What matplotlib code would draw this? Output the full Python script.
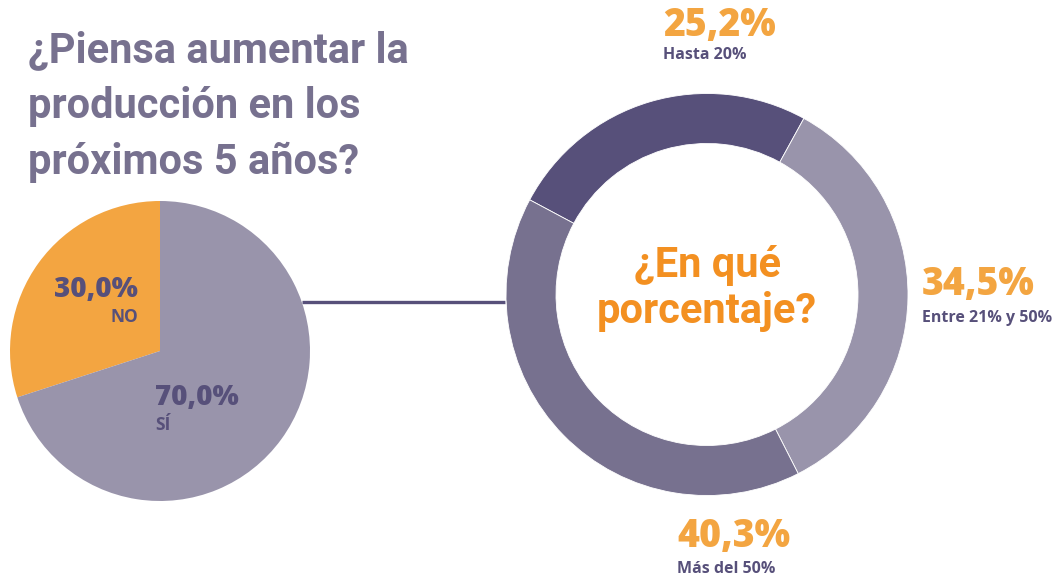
import matplotlib.pyplot as plt

W, H = 1062, 581

# datos
resp_labels = ['NO', 'SÍ']
resp_values = [30.0, 70.0]
pct_labels = ['Hasta 20%', 'Entre 21% y 50%', 'Más del 50%']
pct_values = [25.2, 34.5, 40.3]

purple_dark = '#57507a'
purple_mid = '#77718f'
purple_light = '#9994ab'
orange = '#f3a541'
orange_strong = '#f39021'

f_title = ['Roboto', 'DejaVu Sans']
f_num = ['Open Sans', 'DejaVu Sans']

fig = plt.figure(figsize=(W / 100, H / 100), dpi=100)
ax = fig.add_axes([0, 0, 1, 1])


def Y(py):
    # pixel desde arriba -> coordenada y
    return H - py


def pct(v):
    return f'{v:.1f}%'.replace('.', ',')


# linea de conexion
ax.plot([302, 505], [Y(302), Y(302)], color=purple_dark, lw=2.4,
        solid_capstyle='butt', zorder=1)

# pie izquierdo
ax.pie(resp_values, colors=[orange, purple_light], startangle=90,
       counterclock=True, center=(160, Y(351)), radius=150,
       wedgeprops=dict(linewidth=0))

# dona
ax.pie(pct_values, colors=[purple_dark, purple_light, purple_mid],
       startangle=151.9, counterclock=False, center=(707, Y(294.5)),
       radius=201, wedgeprops=dict(width=50, linewidth=0.6, edgecolor='white'))

ax.set_xlim(0, W)
ax.set_ylim(0, H)
ax.set_aspect('equal')
ax.axis('off')

# titulo
title_lines = ['¿Piensa aumentar la', 'producción en los', 'próximos 5 años?']
for i, line in enumerate(title_lines):
    ax.text(28, Y(62 + 56 * i), line, fontsize=30, fontweight='bold',
            family=f_title, color=purple_mid, ha='left', va='baseline')

# etiquetas pie izquierdo
ax.text(138, Y(297), pct(resp_values[0]), fontsize=20, fontweight='heavy',
        family=f_num, color=purple_dark, ha='right', va='baseline')
ax.text(138, Y(322), resp_labels[0], fontsize=12.5, fontweight='bold',
        family=f_num, color=purple_dark, ha='right', va='baseline')
ax.text(155, Y(405), pct(resp_values[1]), fontsize=20, fontweight='heavy',
        family=f_num, color=purple_dark, ha='left', va='baseline')
ax.text(155, Y(430), resp_labels[1], fontsize=12.5, fontweight='bold',
        family=f_num, color=purple_dark, ha='left', va='baseline')

# etiquetas dona
pos = [(663, 36, 59), (922, 295, 322), (677, 547, 573)]
for (x, yb, yl), lab, v in zip(pos, pct_labels, pct_values):
    ax.text(x, Y(yb), pct(v), fontsize=27, fontweight='heavy',
            family=f_num, color=orange, ha='left', va='baseline')
    ax.text(x, Y(yl), lab, fontsize=11.5, fontweight='bold',
            family=f_num, color=purple_dark, ha='left', va='baseline')

# texto central
ax.text(707, Y(277), '¿En qué', fontsize=30, fontweight='bold',
        family=f_title, color=orange_strong, ha='center', va='baseline')
ax.text(707, Y(323), 'porcentaje?', fontsize=30, fontweight='bold',
        family=f_title, color=orange_strong, ha='center', va='baseline')

fig.savefig('out.png', dpi=100)
